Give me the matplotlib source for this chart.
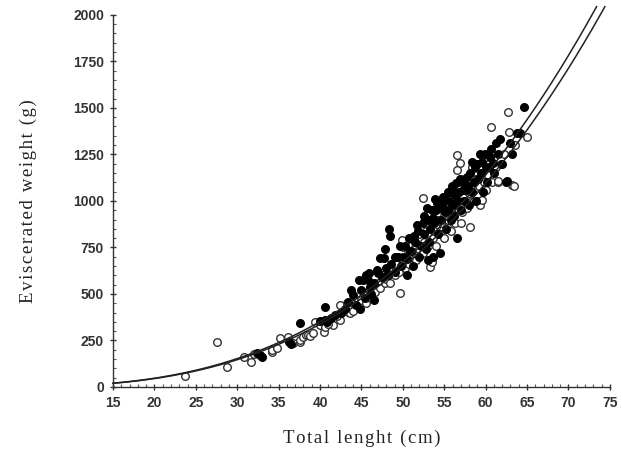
import numpy as np
import matplotlib
matplotlib.use('Agg')
import matplotlib.pyplot as plt
from matplotlib.ticker import MultipleLocator

# Filled circles (total length cm, eviscerated weight g)
filled_len = [32.4, 32.7, 33.0, 36.3, 36.5, 37.6, 40.0, 40.6, 40.8, 40.6, 41.3, 41.8, 42.5,
              43.4, 44.0, 43.0, 44.3, 44.7, 45.2, 45.5, 45.8, 45.0, 45.4, 46.0, 46.2, 46.9,
              47.0, 46.5, 47.3, 47.7, 47.5, 48.0, 48.3, 48.4, 48.2, 48.6, 49.1, 49.4, 49.0,
              49.8, 50.0, 50.3, 50.5, 50.8, 51.0, 51.2, 51.5, 51.8, 52.0, 52.2, 52.4, 52.6,
              52.8, 53.0, 53.2, 53.3, 53.5, 53.7, 53.8, 54.0, 54.2, 54.5, 54.4, 54.6, 54.8,
              55.0, 55.2, 55.4, 55.5, 55.7, 55.8, 56.0, 56.1, 56.2, 56.4, 56.6, 56.5, 56.8,
              57.0, 57.2, 57.4, 57.6, 57.8, 58.0, 58.1, 58.3, 58.6, 58.8, 59.0, 59.3, 59.5,
              59.7, 59.9, 60.0, 60.2, 60.5, 60.9, 61.0, 61.3, 61.7, 62.0, 62.5, 62.6, 62.9,
              63.2, 63.8, 64.2, 64.6, 44.8, 46.5, 50.5, 53.0, 51.3, 52.9, 54.9, 56.9, 57.9,
              59.1, 60.4, 53.9, 55.6, 57.3, 58.7, 43.8, 45.9, 47.9, 49.6, 51.7, 52.5, 54.1,
              55.1, 56.3, 57.7, 58.4, 59.6, 60.7, 61.5, 50.9, 53.6, 55.9]
filled_w = [183, 170, 160, 240, 232, 344, 355, 360, 349, 430, 370, 385, 400,
            457, 495, 420, 440, 575, 575, 602, 575, 520, 480, 540, 500, 629,
            613, 560, 694, 694, 590, 640, 849, 812, 600, 660, 699, 699, 620,
            650, 700, 760, 690, 800, 730, 650, 780, 840, 700, 760, 880, 820,
            740, 900, 780, 850, 950, 700, 880, 950, 820, 720, 1000, 900, 960,
            1000, 850, 1048, 950, 1048, 900, 980, 1059, 920, 1097, 801, 1000, 1050,
            950, 1100, 1000, 1060, 1129, 980, 1150, 1050, 1100, 1000, 1200, 1253, 1150,
            1050, 1253, 1180, 1100, 1237, 1204, 1150, 1312, 1333, 1200, 1102, 1108, 1312,
            1250, 1365, 1365, 1505, 420, 470, 600, 680, 810, 960, 1020, 1120, 1080,
            1120, 1180, 1010, 1000, 1060, 1180, 520, 610, 740, 760, 870, 920, 990,
            940, 1030, 1080, 1210, 1210, 1280, 1250, 730, 910, 1080]

# Open circles
open_len = [23.7, 27.6, 28.8, 30.8, 31.7, 32.0, 34.2, 34.2, 34.8, 35.2, 36.1, 36.7, 37.6,
            37.6, 38.0, 38.3, 38.6, 38.8, 39.2, 39.4, 40.0, 40.5, 40.6, 41.6, 42.4, 42.4,
            43.3, 43.4, 43.6, 42.0, 41.0, 44.2, 44.6, 45.0, 45.3, 45.6, 45.9, 46.2, 46.4,
            46.7, 47.0, 47.2, 47.5, 47.8, 48.0, 48.3, 48.5, 48.7, 49.0, 49.2, 49.5, 49.7,
            49.9, 50.0, 50.0, 50.3, 50.6, 50.5, 50.8, 51.0, 51.2, 51.4, 51.6, 51.8, 52.0,
            52.2, 52.4, 52.4, 52.6, 52.8, 53.0, 53.3, 53.5, 53.2, 53.5, 53.7, 54.0, 54.0,
            54.3, 54.5, 54.7, 55.0, 55.0, 55.3, 55.5, 55.8, 55.8, 56.0, 56.3, 56.5, 56.9,
            56.5, 56.5, 56.8, 57.0, 57.2, 57.5, 57.8, 58.0, 58.1, 58.4, 58.3, 58.6, 58.9,
            59.2, 59.3, 59.6, 59.8, 60.0, 60.3, 60.6, 60.8, 61.2, 61.5, 61.5, 61.8, 62.2,
            62.7, 62.8, 63.2, 63.4, 65.0, 63.5, 44.0, 46.0, 48.1, 49.4, 50.9, 51.9, 53.8,
            54.8, 56.2, 57.4, 59.0, 60.4, 52.7, 55.6, 58.8]
open_w = [59, 242, 108, 161, 134, 177, 188, 199, 210, 263, 269, 237, 242,
          253, 269, 280, 280, 274, 290, 349, 333, 296, 323, 333, 360, 441,
          451, 403, 398, 380, 340, 430, 460, 470, 500, 450, 520, 480, 540,
          510, 560, 530, 600, 560, 580, 620, 560, 640, 600, 660, 620, 505,
          790, 753, 680, 640, 737, 700, 660, 760, 700, 740, 680, 780, 740,
          800, 1016, 720, 780, 840, 760, 645, 672, 820, 880, 800, 860, 760,
          900, 820, 880, 920, 800, 860, 900, 960, 840, 920, 880, 1247, 1204,
          1167, 960, 1000, 880, 940, 1000, 960, 1040, 860, 1183, 1000, 1060, 1000,
          1080, 978, 1005, 1100, 1060, 1140, 1398, 1100, 1180, 1102, 1108, 1200, 1250,
          1478, 1371, 1086, 1081, 1344, 1300, 410, 500, 600, 700, 720, 820, 840,
          950, 1000, 1120, 1140, 1200, 900, 980, 1120]

# fitted W = a * L^b curves (two groups)
curve_a = [2020 / 73.1 ** 2.9, 2020 / 74.1 ** 2.9]
curve_b = [2.9, 2.9]
curve_end = [73.4, 74.4]

xlabel = '\u200a'.join('Total lenght (cm)')
ylabel = '\u200a'.join('Eviscerated weight (g)')

fig = plt.figure(figsize=(6.21, 4.5), dpi=100)
ax = fig.add_axes([0.182, 0.14, 0.8, 0.827])

for a, b, end in zip(curve_a, curve_b, curve_end):
    L = np.linspace(15, end, 300)
    ax.plot(L, a * L ** b, color='#222222', lw=1.1, clip_on=False, zorder=3)

ax.scatter(open_len, open_w, s=30, facecolors='white', edgecolors='#333333',
           linewidths=1.0, zorder=2)
ax.scatter(filled_len, filled_w, s=30, facecolors='black', edgecolors='black',
           linewidths=1.0, zorder=2)

ax.set_xlim(15, 75)
ax.set_ylim(0, 2000)
ax.xaxis.set_major_locator(MultipleLocator(5))
ax.xaxis.set_minor_locator(MultipleLocator(1))
ax.yaxis.set_major_locator(MultipleLocator(250))
ax.yaxis.set_minor_locator(MultipleLocator(50))
ax.spines['top'].set_visible(False)
ax.spines['right'].set_visible(False)
for s in ['left', 'bottom']:
    ax.spines[s].set_color('#333333')
    ax.spines[s].set_linewidth(1.0)
ax.tick_params(which='major', direction='inout', length=5, width=1, color='#333333', pad=4)
ax.tick_params(which='minor', direction='in', length=2, width=0.8, color='#555555')
for lab in ax.get_xticklabels() + ax.get_yticklabels():
    lab.set_fontfamily('Liberation Sans')
    lab.set_fontweight('bold')
    lab.set_fontsize(10)
    lab.set_color('#333333')

ax.set_xlabel(xlabel, family=['Liberation Serif', 'DejaVu Serif'], fontsize=13.5,
              color='#222222', labelpad=14)
ax.set_ylabel(ylabel, family=['Liberation Serif', 'DejaVu Serif'], fontsize=13.5,
              color='#222222', labelpad=26)

fig.savefig('out.png', dpi=100)
